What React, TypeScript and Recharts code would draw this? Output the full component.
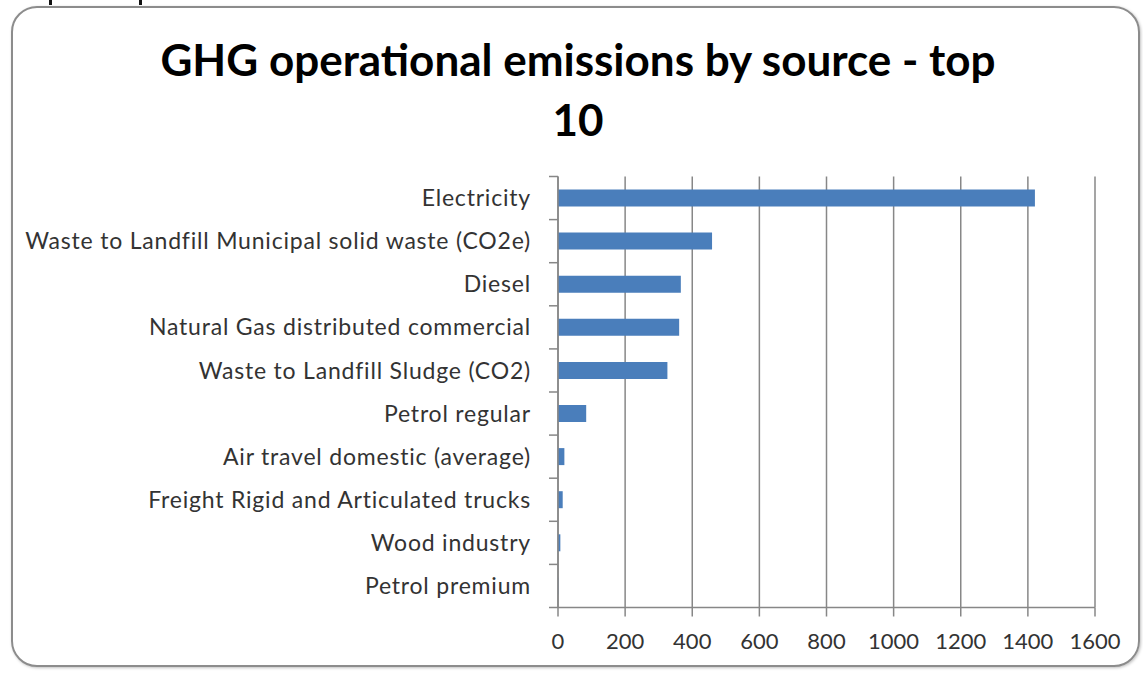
import React from 'react';
import { BarChart, Bar, XAxis, YAxis, CartesianGrid } from 'recharts';

const categories = [
  'Electricity',
  'Waste to Landfill Municipal solid waste (CO2e)',
  'Diesel',
  'Natural Gas distributed commercial',
  'Waste to Landfill Sludge (CO2)',
  'Petrol regular',
  'Air travel domestic (average)',
  'Freight Rigid and Articulated trucks',
  'Wood industry',
  'Petrol premium',
];

const emissions = [1421, 459, 366, 361, 326, 84, 19, 14, 7, 1];

const xTicks = [0, 200, 400, 600, 800, 1000, 1200, 1400, 1600];

const data = categories.map((name, i) => ({ name, value: emissions[i] }));

const FONT = 'Lato, "Open Sans", sans-serif';
const AXIS_COLOR = '#878787';

// category ticks sit between bars (Excel style), label drawn left of the axis
function CategoryTick(props: any) {
  const { x, y, payload, index, visibleTicksCount } = props;
  const half = payload && payload.offset ? payload.offset : 21.55;
  const isLast = index === (visibleTicksCount ?? categories.length) - 1;
  return (
    <g>
      <line x1={x - 9} x2={x} y1={y - half} y2={y - half} stroke={AXIS_COLOR} strokeWidth={1.5} />
      {isLast ? (
        <line x1={x - 9} x2={x} y1={y + half} y2={y + half} stroke={AXIS_COLOR} strokeWidth={1.5} />
      ) : null}
      <text
        x={x - 27}
        y={y}
        dy="0.35em"
        textAnchor="end"
        fill="#333"
        fontSize={23}
        letterSpacing={0.8}
        fontFamily={FONT}
      >
        {payload.value}
      </text>
    </g>
  );
}

export default function App() {
  return (
    <div style={{ position: 'absolute', left: 0, top: 0, width: 1143, height: 673, background: '#fff', overflow: 'hidden' }}>
      {/* cropped bits of text above the chart frame */}
      <div style={{ position: 'absolute', left: 49, top: 0, width: 3, height: 5, background: '#111' }} />
      <div style={{ position: 'absolute', left: 139, top: 0, width: 3, height: 5, background: '#111' }} />
      <div
        style={{
          position: 'absolute',
          left: 11,
          top: 6,
          width: 1125,
          height: 657,
          border: '2px solid #8c8c8c',
          borderRadius: 26,
          boxShadow: '1px 1px 3px rgba(0,0,0,0.25)',
        }}
      />
      <div
        style={{
          position: 'absolute',
          left: 78,
          top: 29,
          width: 1000,
          textAlign: 'center',
          fontFamily: FONT,
          fontWeight: 700,
          fontSize: 44,
          lineHeight: '60px',
          color: '#000',
        }}
      >
        GHG operational emissions by source - top
        <br />
        10
      </div>
      <div style={{ position: 'absolute', left: 0, top: 0 }}>
        <BarChart
          width={1143}
          height={673}
          data={data}
          layout="vertical"
          margin={{ top: 176.5, right: 48, bottom: 0, left: 18 }}
          barCategoryGap="60%"
        >
          <CartesianGrid horizontal={false} vertical={true} stroke={AXIS_COLOR} strokeWidth={1.5} />
          <XAxis
            type="number"
            domain={[0, 1600]}
            ticks={xTicks}
            interval={0}
            height={65.5}
            axisLine={{ stroke: AXIS_COLOR, strokeWidth: 1.5 }}
            tickLine={{ stroke: AXIS_COLOR, strokeWidth: 1.5 }}
            tickSize={9}
            tickMargin={17}
            tick={{ fill: '#333', fontSize: 22, fontFamily: FONT }}
          />
          <YAxis
            type="category"
            dataKey="name"
            width={540}
            interval={0}
            axisLine={{ stroke: AXIS_COLOR, strokeWidth: 1.5 }}
            tickLine={false}
            tickSize={0}
            tickMargin={0}
            tick={<CategoryTick />}
          />
          <Bar dataKey="value" fill="#4a7ebb" barSize={17} isAnimationActive={false} />
        </BarChart>
      </div>
    </div>
  );
}
